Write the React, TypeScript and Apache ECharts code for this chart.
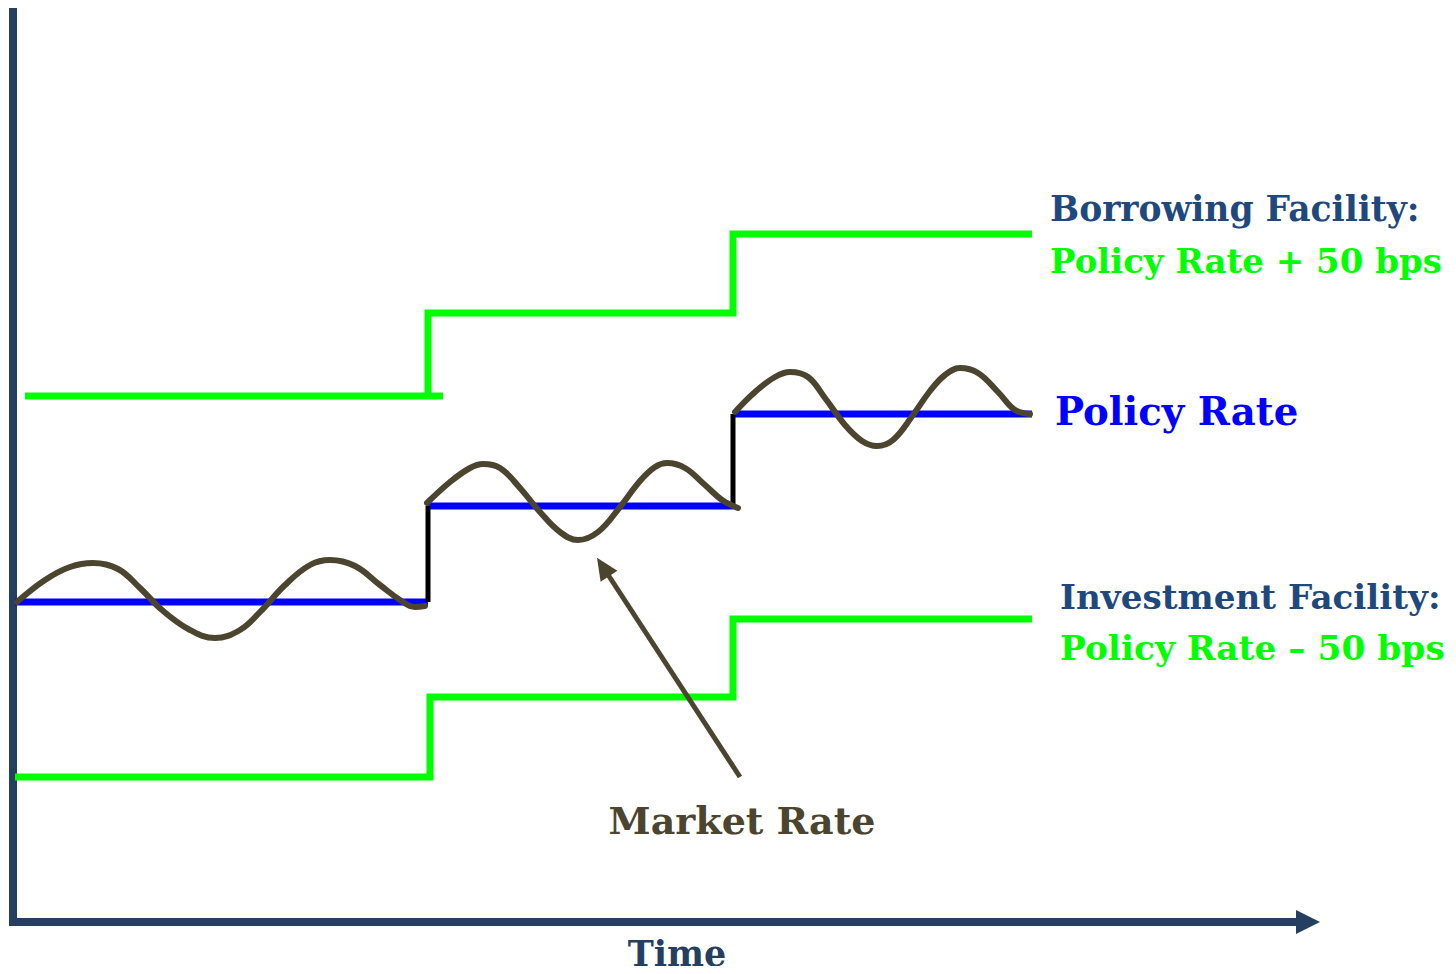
import React, { useEffect, useRef } from "react";
import * as echarts from "echarts";

// Time (x) and rate (y) values (schematic units)
const borrowingFacility: (number | null)[][] = [
  [0.12, 5.26], [4.30, 5.26], [4.15, 5.26], [4.15, 6.09], [7.20, 6.09], [7.20, 6.88], [10.19, 6.88],
];
const investmentFacility: (number | null)[][] = [
  [0.02, 1.45], [4.17, 1.45], [4.17, 2.25], [7.20, 2.25], [7.20, 3.03], [10.19, 3.03],
];
const policyRate: (number | null)[][] = [
  [0.02, 3.20], [4.15, 3.20], [4.15, null],
  [4.15, 4.16], [7.20, 4.16], [7.20, null],
  [7.20, 5.08], [10.19, 5.08],
];
const policySteps: (number | null)[][] = [
  [4.15, 3.20], [4.15, 4.16], [4.15, null],
  [7.20, 4.16], [7.20, 5.08],
];
const marketRate1: number[][] = [
  [0.04, 3.20], [0.32, 3.42], [0.57, 3.55], [0.80, 3.59], [1.05, 3.53], [1.27, 3.34], [1.49, 3.12],
  [1.77, 2.92], [2.02, 2.84], [2.27, 2.92], [2.47, 3.10], [2.72, 3.37], [2.97, 3.57], [3.17, 3.62],
  [3.42, 3.56], [3.67, 3.37], [3.87, 3.22], [4.02, 3.15], [4.12, 3.16],
];
const marketRate2: number[][] = [
  [4.14, 4.19], [4.37, 4.40], [4.57, 4.54], [4.70, 4.58], [4.87, 4.54], [5.07, 4.34], [5.27, 4.10],
  [5.47, 3.90], [5.65, 3.82], [5.85, 3.90], [6.07, 4.15], [6.27, 4.41], [6.42, 4.55], [6.54, 4.59],
  [6.72, 4.54], [6.92, 4.37], [7.09, 4.22], [7.25, 4.14],
];
const marketRate3: number[][] = [
  [7.22, 5.10], [7.42, 5.30], [7.62, 5.45], [7.77, 5.50], [7.95, 5.45], [8.12, 5.24], [8.32, 4.97],
  [8.49, 4.81], [8.64, 4.76], [8.80, 4.82], [9.00, 5.07], [9.17, 5.31], [9.32, 5.47], [9.47, 5.54],
  [9.65, 5.49], [9.85, 5.30], [10.02, 5.12], [10.17, 5.08],
];
const marketArrow: number[][] = [[7.27, 1.45], [5.90, 3.55]];

const labels = {
  borrowTitle: "Borrowing Facility:",
  borrowRule: "Policy Rate + 50 bps",
  policy: "Policy Rate",
  investTitle: "Investment Facility:",
  investRule: "Policy Rate – 50 bps",
  market: "Market Rate",
  time: "Time",
};

const NAVY = "#1f497d";
const AXIS = "#243f60";
const GREEN = "#00ff00";
const BLUE = "#0000ff";
const OLIVE = "#4b4530";
const FONT = "'DejaVu Serif'";

export default function App() {
  const ref = useRef<HTMLDivElement>(null);
  useEffect(() => {
    if (!ref.current) return;
    const chart = echarts.init(ref.current, undefined, { renderer: "svg" });
    const waveSeries = (data: number[][]) => ({
      type: "line", data, showSymbol: false, symbol: "none", silent: true, smooth: 0.4,
      lineStyle: { color: OLIVE, width: 6, cap: "round", join: "round" },
    });
    const txt = (text: string, x: number, y: number, size: number, fill: string, align = "left") => ({
      type: "text",
      x,
      y,
      style: {
        text,
        fill,
        font: `bold ${size}px ${FONT}`,
        align,
        textAlign: align,
        verticalAlign: "middle",
        textVerticalAlign: "middle",
      },
    });
    chart.setOption({
      animation: false,
      grid: { left: 13, right: 148, top: 7, bottom: 52 },
      xAxis: {
        type: "value",
        min: 0,
        max: 12.95,
        axisLine: {
          show: true,
          lineStyle: { color: AXIS, width: 8, cap: "square" },
          symbol: ["none", "triangle"],
          symbolSize: [24, 24],
        },
        axisTick: { show: false },
        axisLabel: { show: false },
        splitLine: { show: false },
      },
      yAxis: {
        type: "value",
        min: 0,
        max: 9.15,
        axisLine: { show: true, lineStyle: { color: AXIS, width: 8, cap: "butt" } },
        axisTick: { show: false },
        axisLabel: { show: false },
        splitLine: { show: false },
      },
      series: [
        {
          type: "line", data: borrowingFacility, showSymbol: false, symbol: "none", silent: true,
          lineStyle: { color: GREEN, width: 7, join: "miter" },
        },
        {
          type: "line", data: investmentFacility, showSymbol: false, symbol: "none", silent: true,
          lineStyle: { color: GREEN, width: 7, join: "miter" },
        },
        {
          type: "line", data: policyRate, showSymbol: false, symbol: "none", silent: true,
          lineStyle: { color: BLUE, width: 7 },
        },
        {
          type: "line", data: policySteps, showSymbol: false, symbol: "none", silent: true,
          lineStyle: { color: "#000000", width: 5 },
        },
        waveSeries(marketRate1),
        waveSeries(marketRate2),
        {
          ...waveSeries(marketRate3),
          markLine: {
            silent: true,
            symbol: ["none", "triangle"],
            symbolSize: [20, 22],
            label: { show: false },
            lineStyle: { color: OLIVE, width: 5, type: "solid" },
            data: [[{ coord: marketArrow[0] }, { coord: marketArrow[1] }]],
          },
        },
      ],
      graphic: [
        txt(labels.borrowTitle, 1050, 209, 34.5, NAVY),
        txt(labels.borrowRule, 1050, 261, 34, GREEN),
        txt(labels.policy, 1055, 411, 38.7, BLUE),
        txt(labels.investTitle, 1060, 597, 34.2, NAVY),
        txt(labels.investRule, 1060, 648, 34.4, GREEN),
        txt(labels.market, 742, 820, 38, OLIVE, "center"),
        txt(labels.time, 677, 953, 35, AXIS, "center"),
      ],
    });
    return () => chart.dispose();
  }, []);
  return <div ref={ref} style={{ width: 1456, height: 974, margin: -8 }} />;
}
